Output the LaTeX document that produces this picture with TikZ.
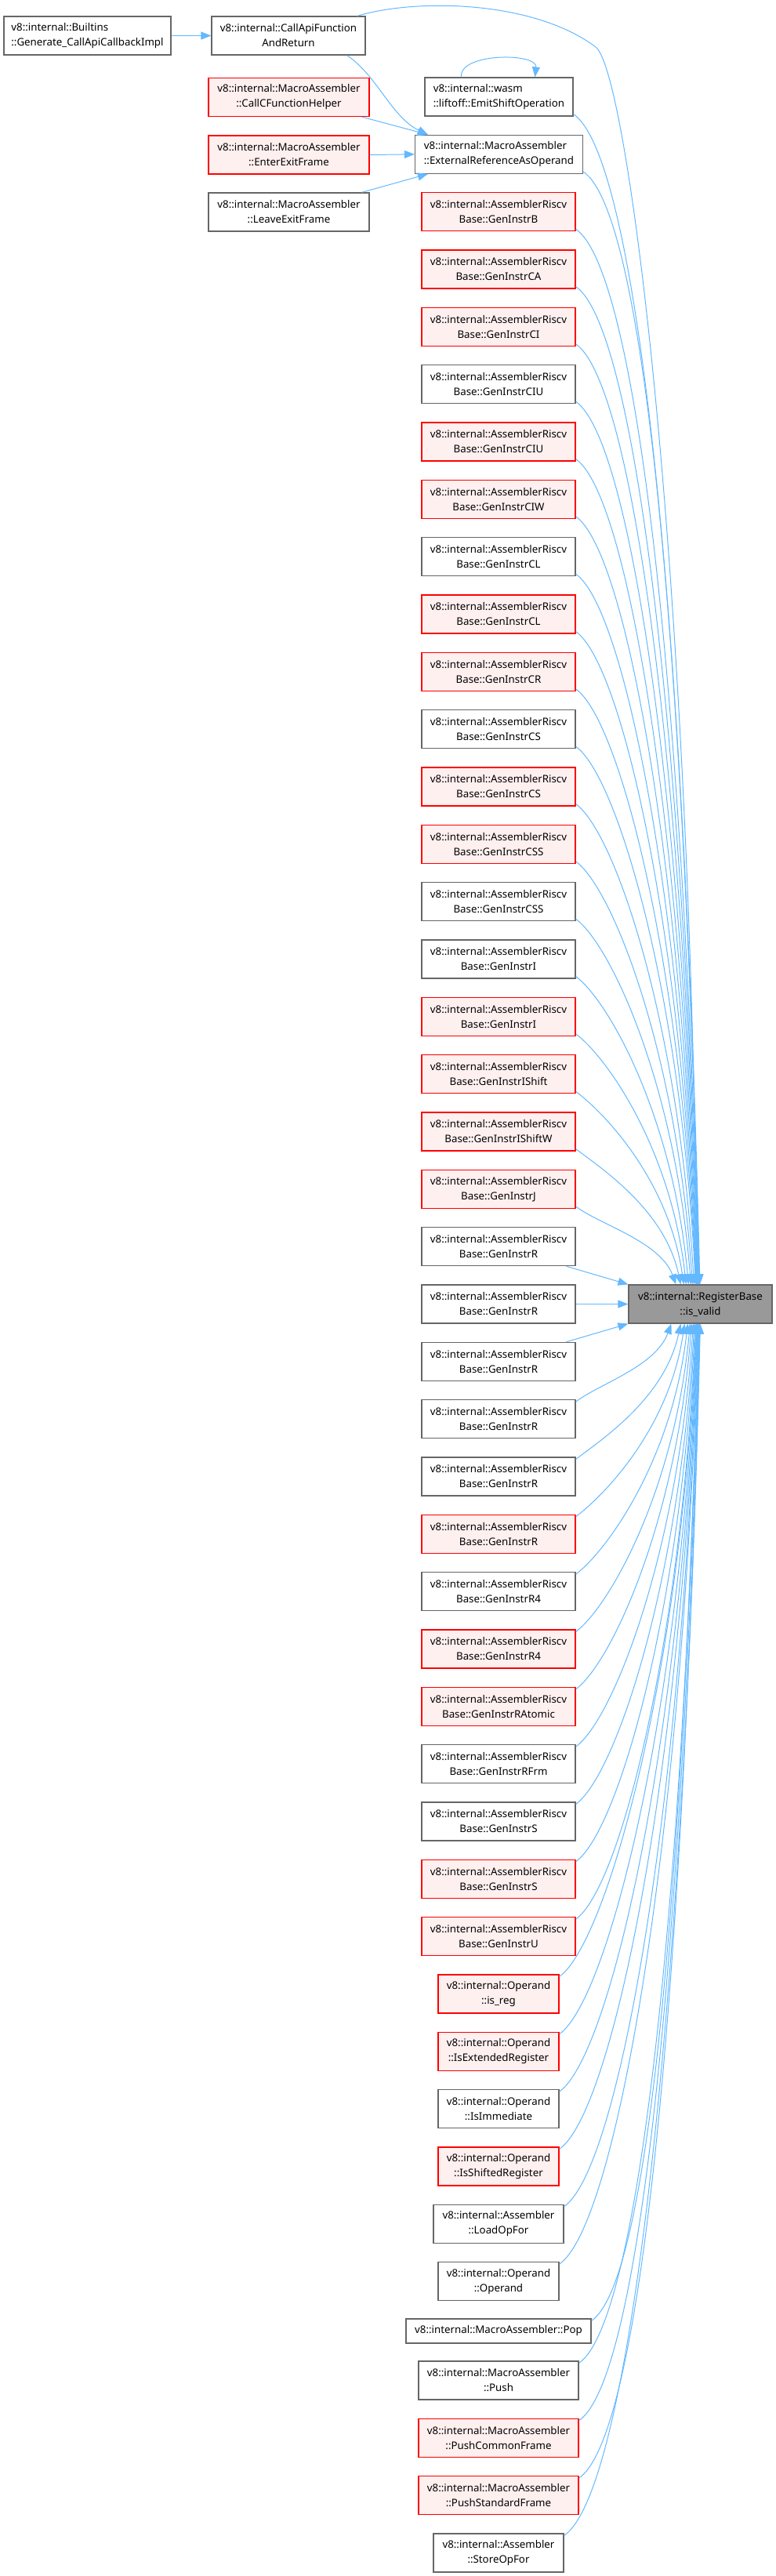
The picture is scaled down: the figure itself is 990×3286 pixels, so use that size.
\documentclass[tikz,border=0pt]{standalone}
\usepackage{fontspec}
\setmainfont{Noto Sans}
\usetikzlibrary{arrows.meta,calc}
\definecolor{edgeblue}{HTML}{63B8FF}
\definecolor{boxgray}{HTML}{666666}
\definecolor{redfill}{HTML}{FFF0F0}
\definecolor{tgtfill}{HTML}{999999}
\tikzset{
 base/.style={rectangle, line width=1.2pt, minimum height=49pt, inner sep=0pt, align=center, font=\fontsize{13.3}{19}\selectfont, text=black},
 wbox/.style={base, draw=boxgray, fill=white},
 rbox/.style={base, draw=red, fill=redfill},
 tbox/.style={base, draw=boxgray, fill=tgtfill},
 edge/.style={draw=edgeblue, line width=1pt, -{Triangle[length=13pt,width=10pt]}},
}
\newcommand\upedge[2]{%
 \draw[edge] let \p1=([yshift=3pt]#1.south east), \p2=([xshift=#2pt]tgt.north west), \n1={\y1-\y2} in
  (\p1) .. controls ({\x1+25pt+0.04*\n1}, {\y1-20pt-0.025*\n1}) and ({\x2-20pt}, {\y2+0.55*\n1}) .. (\p2);}
\newcommand\downedge[2]{%
 \draw[edge] let \p1=([yshift=-3pt]#1.north east), \p2=([xshift=#2pt]tgt.south west), \n1={\y2-\y1} in
  (\p1) .. controls ({\x1+25pt+0.04*\n1}, {\y1+20pt+0.025*\n1}) and ({\x2-20pt}, {\y2-0.55*\n1}) .. (\p2);}
\begin{document}
\begin{tikzpicture}[x=1pt,y=-1pt]
\useasboundingbox (0,0) rectangle (990,3286);
% left columns
\node[wbox, minimum width=213pt, align=left] (blt) at (111.5,45.5) {v8::internal::Builtins\\::Generate\_CallApiCallbackImpl};
\node[wbox, minimum width=196pt] (capi) at (368,45.5) {v8::internal::CallApiFunction\\AndReturn};
\node[rbox, minimum width=205pt] (ccf) at (368.5,124) {v8::internal::MacroAssembler\\::CallCFunctionHelper};
\node[rbox, minimum width=205pt] (eef) at (368.5,197.5) {v8::internal::MacroAssembler\\::EnterExitFrame};
\node[wbox, minimum width=205pt] (lef) at (368.5,270.5) {v8::internal::MacroAssembler\\::LeaveExitFrame};
% target
\node[tbox, minimum width=183pt] (tgt) at (893.5,1663.5) {v8::internal::RegisterBase\\::is\_valid};
% middle column
\node[wbox, minimum width=189pt, align=left] (n1) at (636.5,123.5) {v8::internal::wasm\\::liftoff::EmitShiftOperation};
\node[wbox, minimum width=214pt, align=left] (n2) at (636.5,196.8) {v8::internal::MacroAssembler\\::ExternalReferenceAsOperand};
\node[rbox, minimum width=196pt] (n3) at (636,270.2) {v8::internal::AssemblerRiscv\\Base::GenInstrB};
\node[rbox, minimum width=196pt] (n4) at (636,343.5) {v8::internal::AssemblerRiscv\\Base::GenInstrCA};
\node[rbox, minimum width=196pt] (n5) at (636,416.8) {v8::internal::AssemblerRiscv\\Base::GenInstrCI};
\node[wbox, minimum width=196pt] (n6) at (636,490.2) {v8::internal::AssemblerRiscv\\Base::GenInstrCIU};
\node[rbox, minimum width=196pt] (n7) at (636,563.5) {v8::internal::AssemblerRiscv\\Base::GenInstrCIU};
\node[rbox, minimum width=196pt] (n8) at (636,636.8) {v8::internal::AssemblerRiscv\\Base::GenInstrCIW};
\node[wbox, minimum width=196pt] (n9) at (636,710.2) {v8::internal::AssemblerRiscv\\Base::GenInstrCL};
\node[rbox, minimum width=196pt] (n10) at (636,783.5) {v8::internal::AssemblerRiscv\\Base::GenInstrCL};
\node[rbox, minimum width=196pt] (n11) at (636,856.8) {v8::internal::AssemblerRiscv\\Base::GenInstrCR};
\node[wbox, minimum width=196pt] (n12) at (636,930.2) {v8::internal::AssemblerRiscv\\Base::GenInstrCS};
\node[rbox, minimum width=196pt] (n13) at (636,1003.5) {v8::internal::AssemblerRiscv\\Base::GenInstrCS};
\node[rbox, minimum width=196pt] (n14) at (636,1076.8) {v8::internal::AssemblerRiscv\\Base::GenInstrCSS};
\node[wbox, minimum width=196pt] (n15) at (636,1150.2) {v8::internal::AssemblerRiscv\\Base::GenInstrCSS};
\node[wbox, minimum width=196pt] (n16) at (636,1223.5) {v8::internal::AssemblerRiscv\\Base::GenInstrI};
\node[rbox, minimum width=196pt] (n17) at (636,1296.8) {v8::internal::AssemblerRiscv\\Base::GenInstrI};
\node[rbox, minimum width=196pt] (n18) at (636,1370.2) {v8::internal::AssemblerRiscv\\Base::GenInstrIShift};
\node[rbox, minimum width=196pt] (n19) at (636,1443.5) {v8::internal::AssemblerRiscv\\Base::GenInstrIShiftW};
\node[rbox, minimum width=196pt] (n20) at (636,1516.8) {v8::internal::AssemblerRiscv\\Base::GenInstrJ};
\node[wbox, minimum width=196pt] (n21) at (636,1590.2) {v8::internal::AssemblerRiscv\\Base::GenInstrR};
\node[wbox, minimum width=196pt] (n22) at (636,1663.5) {v8::internal::AssemblerRiscv\\Base::GenInstrR};
\node[wbox, minimum width=196pt] (n23) at (636,1736.8) {v8::internal::AssemblerRiscv\\Base::GenInstrR};
\node[wbox, minimum width=196pt] (n24) at (636,1810.2) {v8::internal::AssemblerRiscv\\Base::GenInstrR};
\node[wbox, minimum width=196pt] (n25) at (636,1883.5) {v8::internal::AssemblerRiscv\\Base::GenInstrR};
\node[rbox, minimum width=196pt] (n26) at (636,1956.8) {v8::internal::AssemblerRiscv\\Base::GenInstrR};
\node[wbox, minimum width=196pt] (n27) at (636,2030.2) {v8::internal::AssemblerRiscv\\Base::GenInstrR4};
\node[rbox, minimum width=196pt] (n28) at (636,2103.5) {v8::internal::AssemblerRiscv\\Base::GenInstrR4};
\node[rbox, minimum width=196pt] (n29) at (636,2176.8) {v8::internal::AssemblerRiscv\\Base::GenInstrRAtomic};
\node[wbox, minimum width=196pt] (n30) at (636,2250.2) {v8::internal::AssemblerRiscv\\Base::GenInstrRFrm};
\node[wbox, minimum width=196pt] (n31) at (636,2323.5) {v8::internal::AssemblerRiscv\\Base::GenInstrS};
\node[rbox, minimum width=196pt] (n32) at (636,2396.8) {v8::internal::AssemblerRiscv\\Base::GenInstrS};
\node[rbox, minimum width=196pt] (n33) at (636,2470.2) {v8::internal::AssemblerRiscv\\Base::GenInstrU};
\node[rbox, minimum width=154pt] (n34) at (636,2543.5) {v8::internal::Operand\\::is\_reg};
\node[rbox, minimum width=154pt] (n35) at (636,2616.8) {v8::internal::Operand\\::IsExtendedRegister};
\node[wbox, minimum width=154pt] (n36) at (636,2690.2) {v8::internal::Operand\\::IsImmediate};
\node[rbox, minimum width=154pt] (n37) at (636,2763.5) {v8::internal::Operand\\::IsShiftedRegister};
\node[wbox, minimum width=166pt] (n38) at (636,2836.8) {v8::internal::Assembler\\::LoadOpFor};
\node[wbox, minimum width=154pt] (n39) at (636,2910.2) {v8::internal::Operand\\::Operand};
\node[wbox, minimum width=236pt, minimum height=31pt] (n40) at (636,2973.5) {v8::internal::MacroAssembler::Pop};
\node[wbox, minimum width=204pt] (n41) at (636,3036.5) {v8::internal::MacroAssembler\\::Push};
\node[rbox, minimum width=204pt] (n42) at (636,3109.8) {v8::internal::MacroAssembler\\::PushCommonFrame};
\node[rbox, minimum width=204pt] (n43) at (636,3183.2) {v8::internal::MacroAssembler\\::PushStandardFrame};
\node[wbox, minimum width=166pt] (n44) at (636,3256.5) {v8::internal::Assembler\\::StoreOpFor};
% edges top-left
\draw[edge] (blt.east) -- (capi.west);
\draw[edge] ([xshift=-24pt]capi.south east) .. controls (480,95) and (500,150) .. ([xshift=17pt]n2.north west);
\draw[edge] ([xshift=-10pt]ccf.south east) -- ([xshift=17pt]n2.north west);
\draw[edge] (eef.east) -- (n2.west);
\draw[edge] ([xshift=-10pt]lef.north east) -- ([xshift=17pt]n2.south west);
\draw[edge] ([xshift=-48pt]n1.north) .. controls (585,67) and (686,67) .. ([xshift=46pt]n1.north);
% long edge from CallApiFunctionAndReturn
\draw[edge] ([xshift=-11pt]capi.north east) .. controls (530,-2) and (680,0) .. (760,60)
  .. controls (800,90) and (880,700) .. ([xshift=88pt]tgt.north west);
% edges into target from above
\foreach \i/\o in {1/91.5,2/91,3/90.5,4/90,5/89.5,6/89,7/88.5,8/88,9/87.5,10/87,11/86.5,12/86,13/84,14/82,15/80,16/77,17/74,18/71,19/67,20/61}{
  \upedge{n\i}{\o}
}
\draw[edge] ([xshift=-12pt]n21.south east) -- (tgt.north west);
\draw[edge] (n22.east) -- (tgt.west);
\draw[edge] ([xshift=-12pt]n23.north east) -- (tgt.south west);
% edges into target from below
\foreach \i/\o in {24/55,25/67,26/72,27/76,28/79,29/81,30/83,31/84.5,32/85.5,33/86.5,34/87,35/87.5,36/88,37/88.5,38/89,39/89.5,40/90,41/90.5,42/91,43/91.5,44/92}{
  \downedge{n\i}{\o}
}
\end{tikzpicture}
\end{document}
